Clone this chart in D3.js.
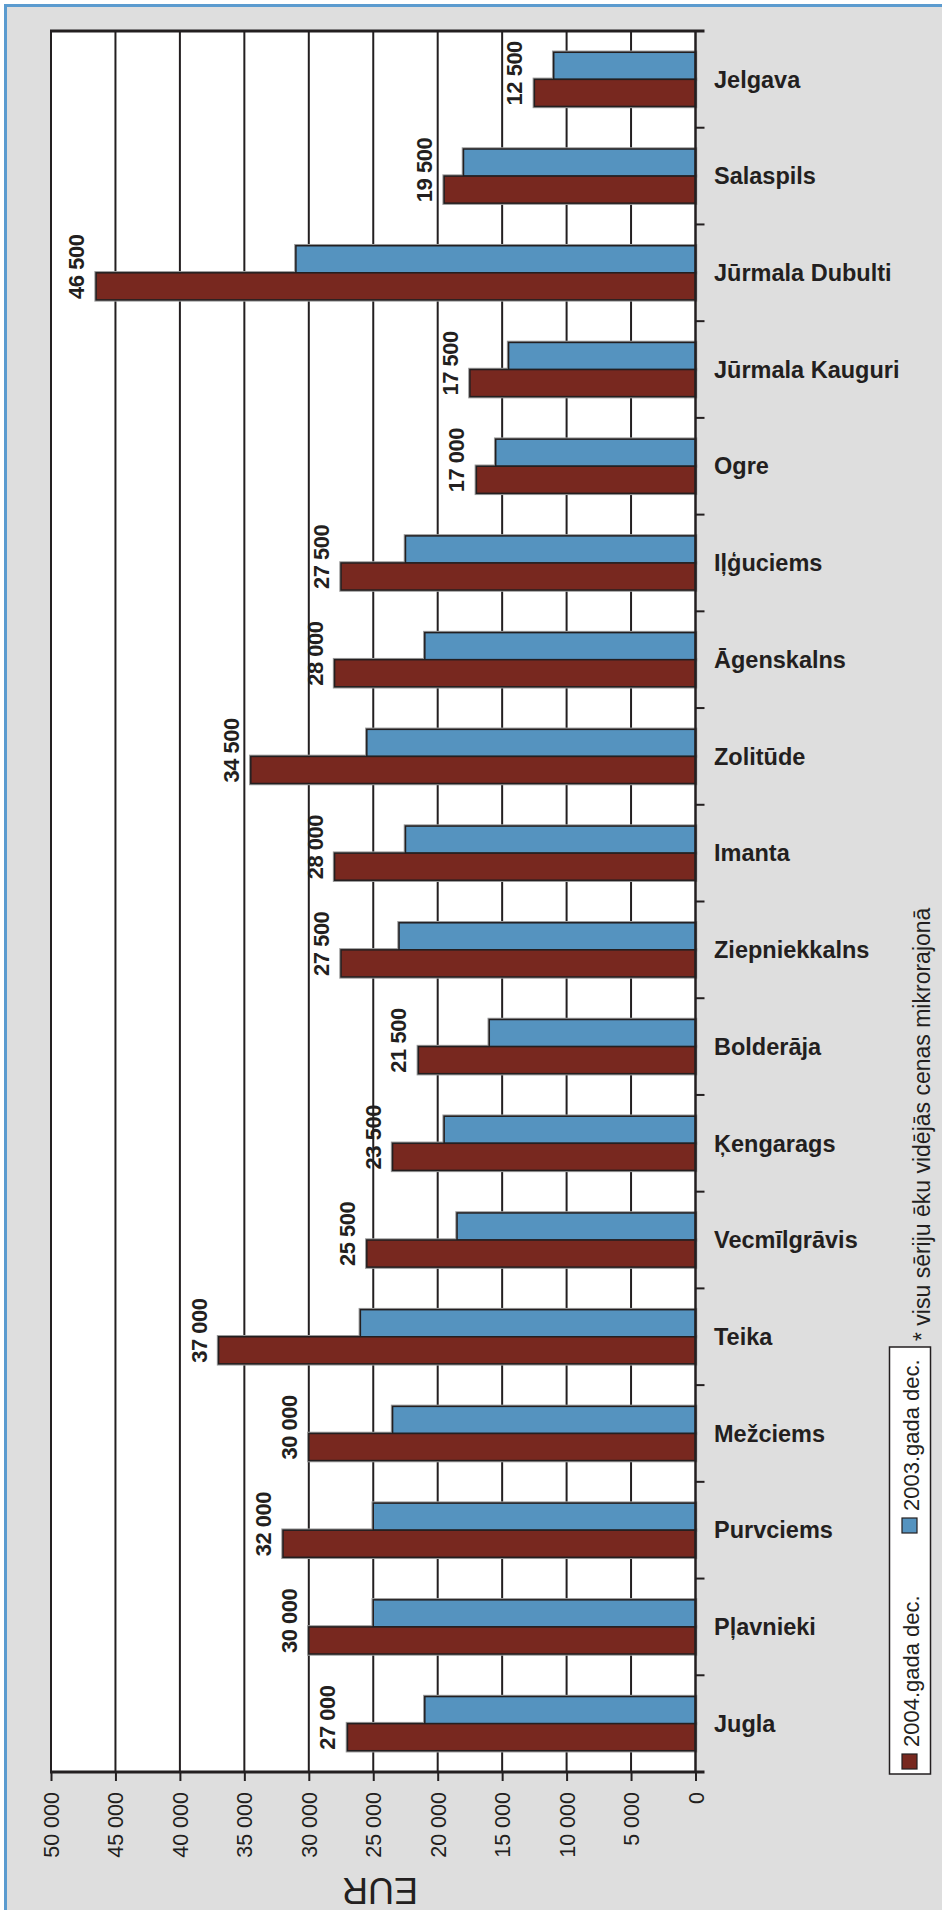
<!DOCTYPE html>
<html>
<head>
<meta charset="utf-8">
<script src="https://cdn.jsdelivr.net/npm/d3@7"></script>
<style>
    body { margin: 0; background: #fff; }
    svg { display: block; font-family: "Liberation Sans", Arial, sans-serif; }
</style>
</head>
<body>
<svg id="chart"></svg>
<script>
var categories = ["Jelgava", "Salaspils", "Jūrmala Dubulti", "Jūrmala Kauguri", "Ogre", "Iļģuciems",
    "Āgenskalns", "Zolitūde", "Imanta", "Ziepniekkalns", "Bolderāja", "Ķengarags",
    "Vecmīlgrāvis", "Teika", "Mežciems", "Purvciems", "Pļavnieki", "Jugla"]
var dec2003 = [11000, 18000, 31000, 14500, 15500, 22500, 21000, 25500, 22500, 23000, 16000, 19500,
    18500, 26000, 23500, 25000, 25000, 21000]
var dec2004 = [12500, 19500, 46500, 17500, 17000, 27500, 28000, 34500, 28000, 27500, 21500, 23500,
    25500, 37000, 30000, 32000, 30000, 27000]
var series = ["2003.gada dec.", "2004.gada dec."]
var tickValues = [0, 5000, 10000, 15000, 20000, 25000, 30000, 35000, 40000, 45000, 50000]
var axisTitle = "EUR"
var footnote = "* visu sēriju ēku vidējās cenas mikrorajonā"

draw()

function draw() {
    var width = 942, height = 1910
    var ink = "#231f20"
    var svg = d3.select("#chart")
        .attr("width", width)
        .attr("height", height)

    // grey card with blue frame
    svg.append("rect")
        .attr("x", 5.5).attr("y", 5.5)
        .attr("width", width + 20).attr("height", height + 20)
        .attr("fill", "#dedede")
        .attr("stroke", "#5b9bcf")
        .attr("stroke-width", 3)

    var pLeft = 51, pRight = 695.5, pTop = 31, pBottom = 1772

    var x = d3.scaleLinear().domain([0, 50000]).range([pRight, pLeft])
    var y = d3.scaleBand().domain(categories).range([pTop, pBottom])
    var y2 = d3.scaleBand().domain(series).range([0, y.bandwidth()]).paddingOuter(0.786)
    var color = d3.scaleOrdinal().domain(series).range(["#5593bf", "#78281f"])
    var fmt = d3.formatLocale({decimal: ",", thousands: " ", grouping: [3], currency: ["", ""]}).format(",")

    svg.append("rect")
        .attr("x", pLeft).attr("y", pTop)
        .attr("width", pRight - pLeft).attr("height", pBottom - pTop)
        .attr("fill", "white")

    var bars = []
    categories.forEach(function (c, i) {
        bars.push({cat: c, s: series[0], v: dec2003[i]})
        bars.push({cat: c, s: series[1], v: dec2004[i]})
    })

    // value labels (2004) sit under the grid lines
    svg.append("g").selectAll("text")
        .data(bars.filter(d => d.s == series[1]))
        .enter()
        .append("text")
            .attr("transform", d => "translate(" + (x(d.v) - 12) + "," + (y(d.cat) + y2(d.s) + y2.bandwidth() - 1) + ") rotate(-90)")
            .attr("text-anchor", "start")
            .attr("font-size", 22)
            .attr("font-weight", "bold")
            .attr("letter-spacing", -0.5)
            .attr("fill", ink)
            .text(d => fmt(d.v))

    // grid
    svg.append("g").selectAll("line")
        .data(tickValues.filter(t => t > 0 && t < 50000))
        .enter()
        .append("line")
            .attr("x1", d => x(d)).attr("x2", d => x(d))
            .attr("y1", pTop).attr("y2", pBottom)
            .attr("stroke", ink)
            .attr("stroke-width", 2)

    // bars: grey halo then dark outline
    var gb = svg.append("g")
    gb.selectAll(".halo")
        .data(bars)
        .enter()
        .append("rect")
            .attr("class", "halo")
            .attr("x", d => x(d.v))
            .attr("y", d => y(d.cat) + y2(d.s))
            .attr("width", d => x(0) - x(d.v))
            .attr("height", y2.bandwidth())
            .attr("fill", "none")
            .attr("stroke", "#9a9a9a")
            .attr("stroke-width", 3.5)
    gb.selectAll(".bar")
        .data(bars)
        .enter()
        .append("rect")
            .attr("class", "bar")
            .attr("x", d => x(d.v))
            .attr("y", d => y(d.cat) + y2(d.s))
            .attr("width", d => x(0) - x(d.v))
            .attr("height", y2.bandwidth())
            .attr("fill", d => color(d.s))
            .attr("stroke", ink)
            .attr("stroke-width", 1.5)

    // frame lines
    svg.append("line").attr("x1", pLeft).attr("x2", pLeft).attr("y1", pTop).attr("y2", pBottom)
        .attr("stroke", ink).attr("stroke-width", 2)
    svg.append("line").attr("x1", pRight).attr("x2", pRight).attr("y1", pTop).attr("y2", pBottom)
        .attr("stroke", ink).attr("stroke-width", 2.5)
    svg.append("line").attr("x1", pLeft - 1).attr("x2", pRight + 9).attr("y1", pTop).attr("y2", pTop)
        .attr("stroke", ink).attr("stroke-width", 3)

    // category ticks between bands
    svg.append("g").selectAll("line")
        .data(categories.slice(1))
        .enter()
        .append("line")
            .attr("x1", pRight).attr("x2", pRight + 9)
            .attr("y1", d => y(d)).attr("y2", d => y(d))
            .attr("stroke", ink)
            .attr("stroke-width", 2)

    svg.append("g").selectAll("text")
        .data(categories)
        .enter()
        .append("text")
            .attr("x", 714)
            .attr("y", d => y(d) + y.bandwidth() / 2)
            .attr("dy", "0.35em")
            .attr("font-size", 23.5)
            .attr("font-weight", "bold")
            .attr("fill", ink)
            .text(d => d)

    // value axis at the bottom
    var xAxis = svg.append("g")
        .attr("transform", "translate(0," + pBottom + ")")
        .call(d3.axisBottom(x).tickValues(tickValues).tickSize(9).tickSizeOuter(0).tickFormat(fmt))
    xAxis.select(".domain").remove()
    xAxis.selectAll(".tick line").attr("stroke", ink).attr("stroke-width", 2)
    xAxis.selectAll(".tick text")
        .attr("transform", "rotate(-90)")
        .attr("text-anchor", "end")
        .attr("x", -20)
        .attr("y", 0)
        .attr("dy", "0.35em")
        .attr("font-size", 21.5)
        .attr("font-family", "Liberation Sans, Arial, sans-serif")
        .attr("fill", ink)
    svg.append("line").attr("x1", pLeft - 1).attr("x2", pRight + 9).attr("y1", pBottom).attr("y2", pBottom)
        .attr("stroke", ink).attr("stroke-width", 3)

    svg.append("text")
        .attr("transform", "translate(380,1878) rotate(180)")
        .attr("text-anchor", "middle")
        .attr("font-size", 36)
        .attr("fill", ink)
        .text(axisTitle)

    // legend
    var lg = svg.append("g")
    lg.append("rect")
        .attr("x", 889.5).attr("y", 1347)
        .attr("width", 41).attr("height", 427)
        .attr("fill", "white")
        .attr("stroke", ink)
        .attr("stroke-width", 1.5)
    var swatchTop = {}
    swatchTop[series[0]] = 1518
    swatchTop[series[1]] = 1754
    var li = lg.selectAll(".item")
        .data(series)
        .enter()
        .append("g")
    li.append("rect")
        .attr("x", 902).attr("y", d => swatchTop[d])
        .attr("width", 15).attr("height", 15)
        .attr("fill", d => color(d))
        .attr("stroke", ink)
        .attr("stroke-width", 1.2)
    li.append("text")
        .attr("transform", d => "translate(919," + (swatchTop[d] - 7) + ") rotate(-90)")
        .attr("font-size", 22)
        .attr("fill", ink)
        .text(d => d)

    svg.append("text")
        .attr("transform", "translate(930,1341) rotate(-90)")
        .attr("font-size", 23)
        .attr("fill", ink)
        .text(footnote)
}
</script>
</body>
</html>
